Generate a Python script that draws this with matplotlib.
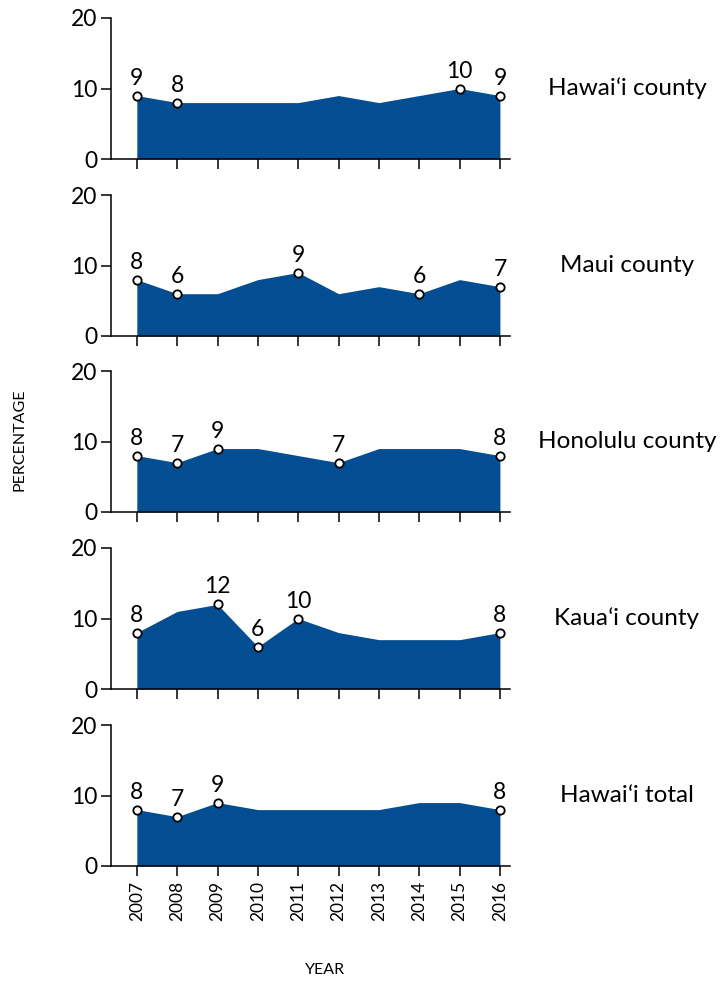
import matplotlib
matplotlib.use("Agg")
import matplotlib.pyplot as plt
import numpy as np

plt.rcParams['font.family'] = ['Lato', 'DejaVu Sans']

years = [2007, 2008, 2009, 2010, 2011, 2012, 2013, 2014, 2015, 2016]
names = ["Hawaiʻi county", "Maui county", "Honolulu county", "Kauaʻi county", "Hawaiʻi total"]
hawaii = [9, 8, 8, 8, 8, 9, 8, 9, 10, 9]
maui = [8, 6, 6, 8, 9, 6, 7, 6, 8, 7]
honolulu = [8, 7, 9, 9, 8, 7, 9, 9, 9, 8]
kauai = [8, 11, 12, 6, 10, 8, 7, 7, 7, 8]
total = [8, 7, 9, 8, 8, 8, 8, 9, 9, 8]
series = [hawaii, maui, honolulu, kauai, total]
# which years get a marker + label
labelled = [
    [2007, 2008, 2015, 2016],
    [2007, 2008, 2011, 2014, 2016],
    [2007, 2008, 2009, 2012, 2016],
    [2007, 2009, 2010, 2011, 2016],
    [2007, 2008, 2009, 2016],
]

W, H = 720, 981
fill_color = "#034e93"
fig = plt.figure(figsize=(W / 100, H / 100), dpi=100)

tops = [18, 195, 371, 548, 725]
panel_h = 141
left_px, right_px = 111, 510

for i, (name, vals, marks) in enumerate(zip(names, series, labelled)):
    top = tops[i]
    ax = fig.add_axes([left_px / W, 1 - (top + panel_h) / H,
                       (right_px - left_px) / W, panel_h / H])
    ax.fill_between(years, vals, 0, color=fill_color, lw=0)
    ax.set_xlim(2006.36, 2016.25)
    ax.set_ylim(0, 20)
    for sp in ["top", "right"]:
        ax.spines[sp].set_visible(False)
    for sp in ["left", "bottom"]:
        ax.spines[sp].set_linewidth(1.1)
    ax.set_yticks([0, 10, 20])
    ax.set_xticks(years)
    ax.tick_params(axis="both", length=7, width=1.1, labelsize=16.5)
    ax.tick_params(axis="y", pad=3)
    if i == 4:
        ax.set_xticklabels([str(y) for y in years], rotation=90, fontsize=12.5)
    else:
        ax.set_xticklabels([])

    for y, v in zip(years, vals):
        if y in marks:
            ax.plot(y, v, "o", ms=6, mfc="white", mec="black", mew=1.3,
                    clip_on=False, zorder=5)
            ax.annotate(str(v), (y, v), xytext=(0, 5), textcoords="offset points",
                        ha="center", va="bottom", fontsize=16.5)

    ax.text(627 / W, 1 - (top + panel_h / 2) / H, name, transform=fig.transFigure,
            ha="center", va="center", fontsize=17.5)

fig.text(20 / W, 1 - 440 / H, "PERCENTAGE", rotation=90, ha="center", va="center",
         fontsize=11.5)
fig.text(325 / W, 1 - 970 / H, "YEAR", ha="center", va="center", fontsize=11.5)

fig.savefig("out.png", dpi=100)
